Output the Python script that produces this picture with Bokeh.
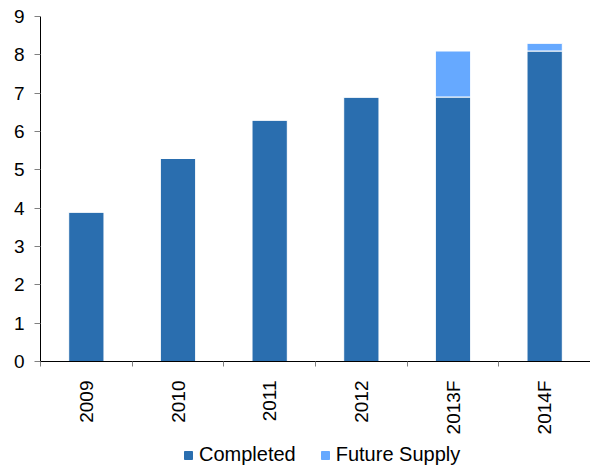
import math
from bokeh.plotting import figure
from bokeh.layouts import column
from bokeh.models import (ColumnDataSource, Range1d, LinearAxis, FixedTicker,
                          Legend, LegendItem)
from bokeh.embed import file_html
from bokeh.resources import INLINE

years = ["2009", "2010", "2011", "2012", "2013F", "2014F"]
completed = [3.9, 5.3, 6.3, 6.9, 6.9, 8.1]
future_supply = [0.0, 0.0, 0.0, 0.0, 1.2, 0.2]
y_ticks = [0, 1, 2, 3, 4, 5, 6, 7, 8, 9]

series = ["completed", "future"]
labels = ["Completed", "Future Supply"]
colors = ["#2A6EAF", "#66A9FF"]

idx = list(range(len(years)))
source = ColumnDataSource(dict(x=idx, completed=completed, future=future_supply))

FONT = "Liberation Sans"

p = figure(width=590, height=437, output_backend="svg", toolbar_location=None,
           x_range=Range1d(-0.5, len(years) - 0.5), y_range=Range1d(0, 9),
           x_axis_location=None, min_border_left=40, min_border_right=0,
           min_border_top=16, min_border_bottom=0)
p.outline_line_color = None
p.grid.grid_line_color = None

rs = p.vbar_stack(series, x="x", width=0.385, source=source, color=colors,
                  line_color="white", line_width=1)

# y axis
ya = p.yaxis[0]
ya.ticker = FixedTicker(ticks=y_ticks)
ya.axis_line_color = "black"
ya.major_tick_line_color = "#808080"
ya.major_tick_out = 6
ya.major_tick_in = 0
ya.minor_tick_line_color = None
ya.major_label_text_font = FONT
ya.major_label_text_font_size = "19px"
ya.major_label_text_color = "black"
ya.major_label_standoff = 10

# x axis: ticks on category boundaries
boundaries = [i - 0.5 for i in range(len(years) + 1)]
xa1 = LinearAxis(ticker=FixedTicker(ticks=boundaries))
xa1.axis_line_color = "black"
xa1.major_tick_line_color = "#808080"
xa1.major_tick_out = 5
xa1.major_tick_in = 0
xa1.minor_tick_line_color = None
xa1.major_label_text_font_size = "2px"
xa1.major_label_text_color = None
xa1.major_label_standoff = 0
p.add_layout(xa1, "below")

# x axis: category labels
xa2 = LinearAxis(ticker=FixedTicker(ticks=idx),
                 major_label_overrides={i: y for i, y in zip(idx, years)})
xa2.axis_line_color = None
xa2.major_tick_line_color = None
xa2.minor_tick_line_color = None
xa2.major_tick_out = 0
xa2.major_tick_in = 0
xa2.major_label_orientation = math.pi / 2
xa2.major_label_text_font = FONT
xa2.major_label_text_font_size = "19px"
xa2.major_label_text_color = "black"
xa2.major_label_standoff = 14
p.add_layout(xa2, "below")

# legend strip (legend proxies drawn from same data, outside visible range)
pl = figure(width=590, height=29, output_backend="svg", toolbar_location=None,
            x_range=Range1d(-0.5, len(years) - 0.5), y_range=Range1d(100, 101),
            x_axis_location=None, y_axis_location=None,
            min_border_left=0, min_border_right=0, min_border_top=0,
            min_border_bottom=0)
pl.outline_line_color = None
pl.grid.grid_line_color = None
lrs = pl.vbar_stack(series, x="x", width=0.385, source=source, color=colors)

legend = Legend(items=[LegendItem(label=l, renderers=[r]) for l, r in zip(labels, lrs)],
                orientation="horizontal", location=(143, 0))
legend.glyph_width = 10
legend.glyph_height = 10
legend.label_standoff = 6
legend.spacing = 24
legend.padding = 0
legend.margin = 0
legend.border_line_color = None
legend.background_fill_alpha = 0
legend.label_text_font = FONT
legend.label_text_font_size = "20px"
legend.label_text_color = "black"
pl.add_layout(legend, "center")

layout = column(p, pl, spacing=0)
open("out.html", "w").write(file_html(layout, INLINE))
